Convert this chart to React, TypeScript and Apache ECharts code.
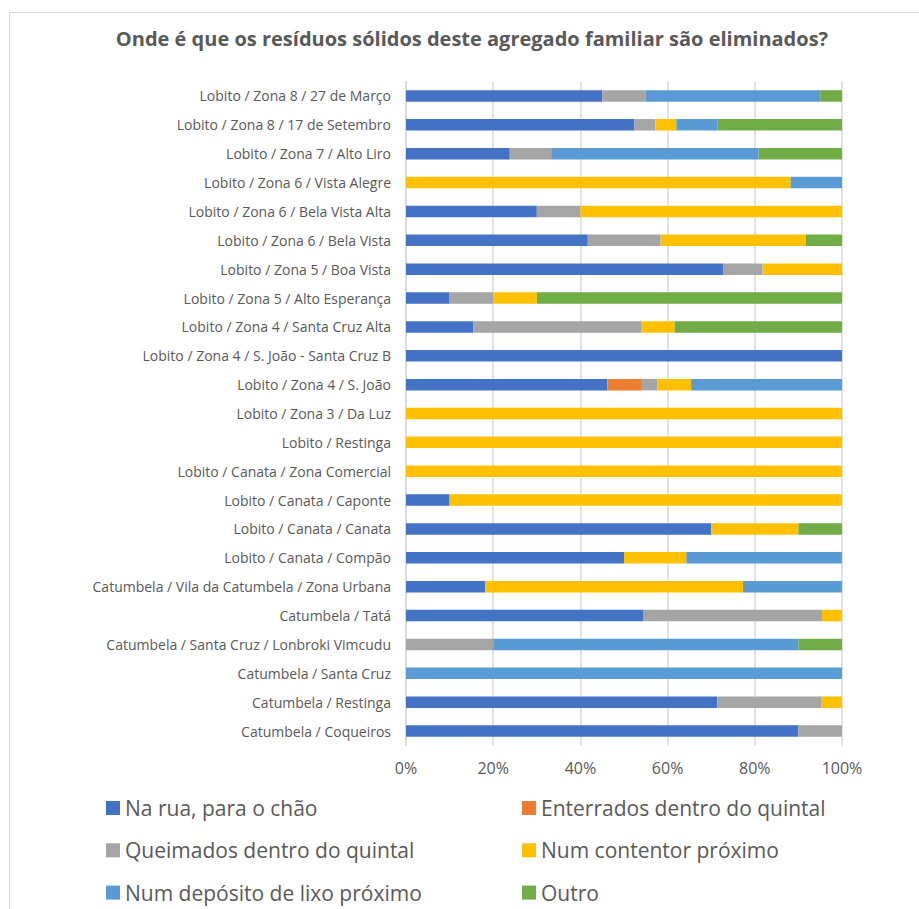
import React, { useEffect, useRef } from "react";
import * as echarts from "echarts";

const categories = [
  "Lobito / Zona 8 / 27 de Março",
  "Lobito / Zona 8 / 17 de Setembro",
  "Lobito / Zona 7 / Alto Liro",
  "Lobito / Zona 6 / Vista Alegre",
  "Lobito / Zona 6 / Bela Vista Alta",
  "Lobito / Zona 6 / Bela Vista",
  "Lobito / Zona 5 / Boa Vista",
  "Lobito / Zona 5 / Alto Esperança",
  "Lobito / Zona 4 / Santa Cruz Alta",
  "Lobito / Zona 4 / S. João - Santa Cruz B",
  "Lobito / Zona 4 / S. João",
  "Lobito / Zona 3 / Da Luz",
  "Lobito / Restinga",
  "Lobito / Canata / Zona Comercial",
  "Lobito / Canata / Caponte",
  "Lobito / Canata / Canata",
  "Lobito / Canata / Compão",
  "Catumbela / Vila da Catumbela / Zona Urbana",
  "Catumbela / Tatá",
  "Catumbela / Santa Cruz / Lonbroki Vimcudu",
  "Catumbela / Santa Cruz",
  "Catumbela / Restinga",
  "Catumbela / Coqueiros",
];

const naRua = [45, 52.4, 23.8, 0, 30, 41.7, 72.7, 10, 15.4, 100, 46.2, 0, 0, 0, 10, 70, 50, 18.2, 54.5, 0, 0, 71.4, 90];
const enterrados = [0, 0, 0, 0, 0, 0, 0, 0, 0, 0, 7.7, 0, 0, 0, 0, 0, 0, 0, 0, 0, 0, 0, 0];
const queimados = [10, 4.8, 9.5, 0, 10, 16.7, 9.1, 10, 38.5, 0, 3.8, 0, 0, 0, 0, 0, 0, 0, 40.9, 20, 0, 23.8, 10];
const contentor = [0, 4.8, 0, 88.2, 60, 33.3, 18.2, 10, 7.7, 0, 7.7, 100, 100, 100, 90, 20, 14.3, 59.1, 4.6, 0, 0, 4.8, 0];
const deposito = [40, 9.5, 47.6, 11.8, 0, 0, 0, 0, 0, 0, 34.6, 0, 0, 0, 0, 0, 35.7, 22.7, 0, 70, 100, 0, 0];
const outro = [5, 28.5, 19.1, 0, 0, 8.3, 0, 70, 38.4, 0, 0, 0, 0, 0, 0, 10, 0, 0, 0, 10, 0, 0, 0];

const seriesNames = [
  "Na rua, para o chão",
  "Enterrados dentro do quintal",
  "Queimados dentro do quintal",
  "Num contentor próximo",
  "Num depósito de lixo próximo",
  "Outro",
];
const seriesData = [naRua, enterrados, queimados, contentor, deposito, outro];
const seriesColors = ["#4472C4", "#ED7D31", "#A5A5A5", "#FFC000", "#5B9BD5", "#70AD47"];
const xTicks = [0, 20, 40, 60, 80, 100];

const FONT = "'Open Sans', 'Noto Sans', sans-serif";
const TEXT = "#595959";

export default function App() {
  const ref = useRef<HTMLDivElement>(null);
  useEffect(() => {
    if (!ref.current) return;
    const chart = echarts.init(ref.current, undefined, { renderer: "svg" });
    const legendStyle = {
      orient: "vertical" as const,
      itemWidth: 14,
      itemHeight: 14,
      itemGap: 21.3,
      padding: 0,
      height: 110,
      icon: "rect",
      textStyle: { color: TEXT, fontSize: 21, fontFamily: FONT, lineHeight: 20 },
    };
    chart.setOption({
      animation: false,
      textStyle: { fontFamily: FONT },
      title: {
        text: "Onde é que os resíduos sólidos deste agregado familiar são eliminados?",
        left: 467,
        textAlign: "center",
        top: 23,
        textStyle: { color: TEXT, fontSize: 20, fontWeight: "bold", fontFamily: FONT },
      },
      graphic: [
        {
          type: "rect",
          shape: { x: 9.5, y: 12.5, width: 940, height: 940 },
          style: { fill: "none", stroke: "#d9d9d9", lineWidth: 1 },
          silent: true,
        },
      ],
      legend: [
        { ...legendStyle, left: 106, top: 797.5, data: [seriesNames[0], seriesNames[2], seriesNames[4]] },
        { ...legendStyle, left: 522, top: 797.5, data: [seriesNames[1], seriesNames[3], seriesNames[5]] },
      ],
      grid: { left: 406, top: 81.5, width: 436, height: 664, containLabel: false },
      xAxis: {
        type: "value",
        min: xTicks[0],
        max: xTicks[xTicks.length - 1],
        interval: 20,
        axisLabel: { formatter: "{value}%", color: TEXT, fontSize: 16, margin: 14, fontFamily: FONT },
        axisLine: { show: false },
        axisTick: { show: false },
        splitLine: { show: true, lineStyle: { color: "#d9d9d9", width: 1.5 } },
      },
      yAxis: {
        type: "category",
        inverse: true,
        data: categories,
        axisLine: { show: true, lineStyle: { color: "#d9d9d9", width: 1.5 } },
        axisTick: { show: false },
        axisLabel: { color: TEXT, fontSize: 14, margin: 15, fontFamily: FONT },
      },
      series: seriesData.map((d, i) => ({
        name: seriesNames[i],
        type: "bar",
        stack: "total",
        barWidth: 11.5,
        data: d,
        itemStyle: { color: seriesColors[i] },
      })),
    });
    return () => chart.dispose();
  }, []);
  return (
    <div
      ref={ref}
      style={{ position: "fixed", left: 0, top: 0, width: 919, height: 909, background: "#fff" }}
    />
  );
}
